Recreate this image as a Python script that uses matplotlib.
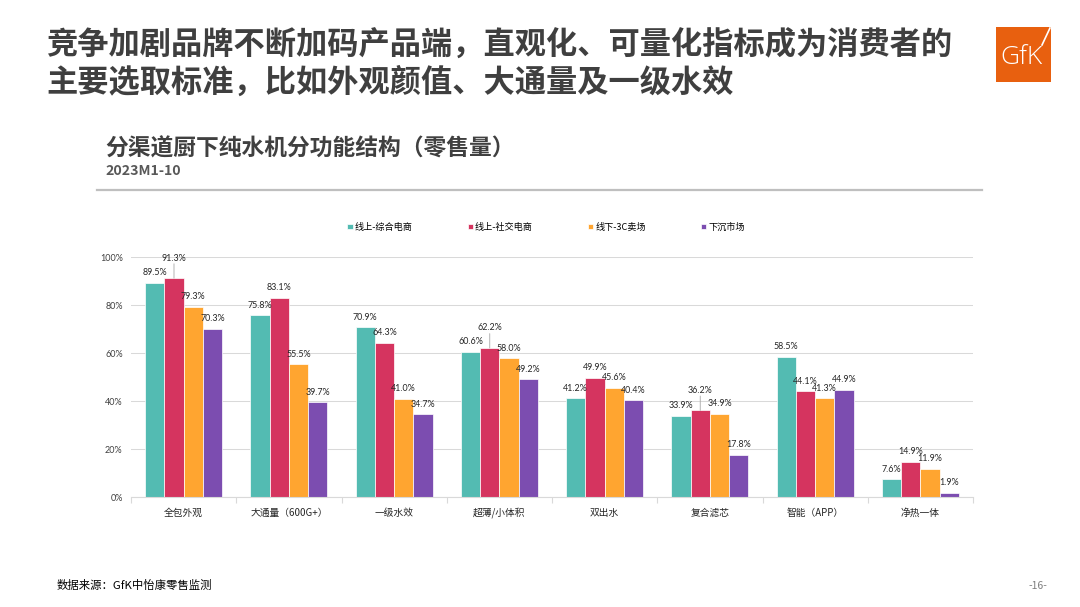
import numpy as np
import matplotlib
matplotlib.use('Agg')
import matplotlib.pyplot as plt
from matplotlib.patches import Rectangle
from matplotlib.lines import Line2D

plt.rcParams['font.family'] = ['Noto Sans CJK SC', 'DejaVu Sans']

categories = ['全包外观', '大通量（600G+）', '一级水效', '超薄/小体积', '双出水', '复合滤芯', '智能（APP）', '净热一体']
series_names = ['线上-综合电商', '线上-社交电商', '线下-3C卖场', '下沉市场']
online_general = [89.5, 75.8, 70.9, 60.6, 41.2, 33.9, 58.5, 7.6]
online_social = [91.3, 83.1, 64.3, 62.2, 49.9, 36.2, 44.1, 14.9]
offline_3c = [79.3, 55.5, 41.0, 58.0, 45.6, 34.9, 41.3, 11.9]
lower_market = [70.3, 39.7, 34.7, 49.2, 40.4, 17.8, 44.9, 1.9]
yticks = [0, 20, 40, 60, 80, 100]

colors = ['#53BBB2', '#D5345F', '#FFA530', '#7C4DB0']
# labels that Excel had lifted up with a leader line: (series, category)
lifted = [(1, 0), (1, 3), (1, 5)]

W, H = 1080, 607
fig = plt.figure(figsize=(W / 100, H / 100), dpi=100)

def fx(px):
	return px / W

def fy(py):
	return 1 - py / H

## header
title_c = '#3F3F3F'
fig.text(fx(46), fy(46), '竞争加剧品牌不断加码产品端，直观化、可量化指标成为消费者的',
	fontsize=22.5, fontweight='heavy', color=title_c, va='center', ha='left')
fig.text(fx(46), fy(83), '主要选取标准，比如外观颜值、大通量及一级水效',
	fontsize=22.5, fontweight='heavy', color=title_c, va='center', ha='left')

fig.text(fx(105), fy(149), '分渠道厨下纯水机分功能结构（零售量）',
	fontsize=16.4, fontweight='bold', color='#404040', va='center', ha='left')
fig.text(fx(105), fy(171), '2023M1-10',
	fontsize=10.2, fontweight='bold', color='#595959', va='center', ha='left')
fig.add_artist(Line2D([fx(97), fx(982)], [fy(190), fy(190)], color='#BFBFBF', lw=1.6))

## GfK logo
fig.add_artist(Rectangle((fx(996), fy(82)), fx(55), 55 / H, color='#E8600F', lw=0))
fig.text(fx(1022), fy(58), 'GfK', fontsize=19, color='white', ha='center', va='center',
	family=['Open Sans', 'DejaVu Sans'], fontweight='light')
fig.add_artist(Line2D([fx(1042), fx(1050)], [fy(45), fy(28)], color='white', lw=1.2))

## footer
fig.text(fx(57), fy(585), '数据来源：GfK中怡康零售监测', fontsize=8.2, color='#000000', va='center')
fig.text(fx(1047), fy(586), '-16-', fontsize=7.5, color='#7F7F7F', va='center', ha='right')

## chart
ax = fig.add_axes([fx(131), fy(497.3), (973 - 131) / W, 240 / H])
values = [online_general, online_social, offline_3c, lower_market]
x = np.arange(len(categories))
w = 0.183
num_font = ['Lato', 'DejaVu Sans']
lab_fs = 6.4

handles = []
for i, vals in enumerate(values):
	xs = x + (i - 1.5) * w
	bars = ax.bar(xs, vals, w, color=colors[i], edgecolor='white', linewidth=0.5, zorder=2,
		label=series_names[i])
	handles.append(bars)
	for j, v in enumerate(vals):
		if (i, j) in lifted:
			ax.annotate('%.1f%%' % v, (xs[j], v), xytext=(0, 14.5), textcoords='offset points',
				ha='center', va='center', fontsize=lab_fs, color='#262626', family=num_font,
				annotation_clip=False)
			ax.annotate('', (xs[j], v), xytext=(xs[j], v + 6.0), textcoords='data',
				arrowprops=dict(arrowstyle='-', color='#A6A6A6', lw=0.6, shrinkA=0, shrinkB=0))
		else:
			ax.annotate('%.1f%%' % v, (xs[j], v), xytext=(0, 7.2), textcoords='offset points',
				ha='center', va='center', fontsize=lab_fs, color='#262626', family=num_font,
				annotation_clip=False)

ax.set_xlim(-0.5, len(categories) - 0.5)
ax.set_ylim(0, 100)
ax.set_yticks(yticks)
ax.set_yticklabels(['%d%%' % t for t in yticks], family=num_font, fontsize=6.5, color='#404040')
ax.set_xticks(x)
ax.set_xticklabels(categories, fontsize=7, color='#262626', va='center')
ax.set_xticks(np.arange(-0.5, len(categories)), minor=True)
ax.tick_params(axis='x', which='major', length=0, pad=11)
ax.tick_params(axis='x', which='minor', length=4, color='#D9D9D9', width=0.8)
ax.tick_params(axis='y', length=0, pad=6)
ax.grid(axis='y', color='#D9D9D9', lw=0.75, zorder=0)
ax.set_axisbelow(True)
for s in ['top', 'right', 'left']:
	ax.spines[s].set_visible(False)
ax.spines['bottom'].set_color('#D9D9D9')
ax.spines['bottom'].set_linewidth(0.8)

fig.legend(handles=handles, labels=series_names, ncol=4, loc='center',
	bbox_to_anchor=(fx(546), fy(227)), frameon=False, fontsize=6.6,
	handlelength=0.55, handleheight=0.55, handletextpad=0.25, columnspacing=6.0)

fig.savefig('out.png', dpi=100)
